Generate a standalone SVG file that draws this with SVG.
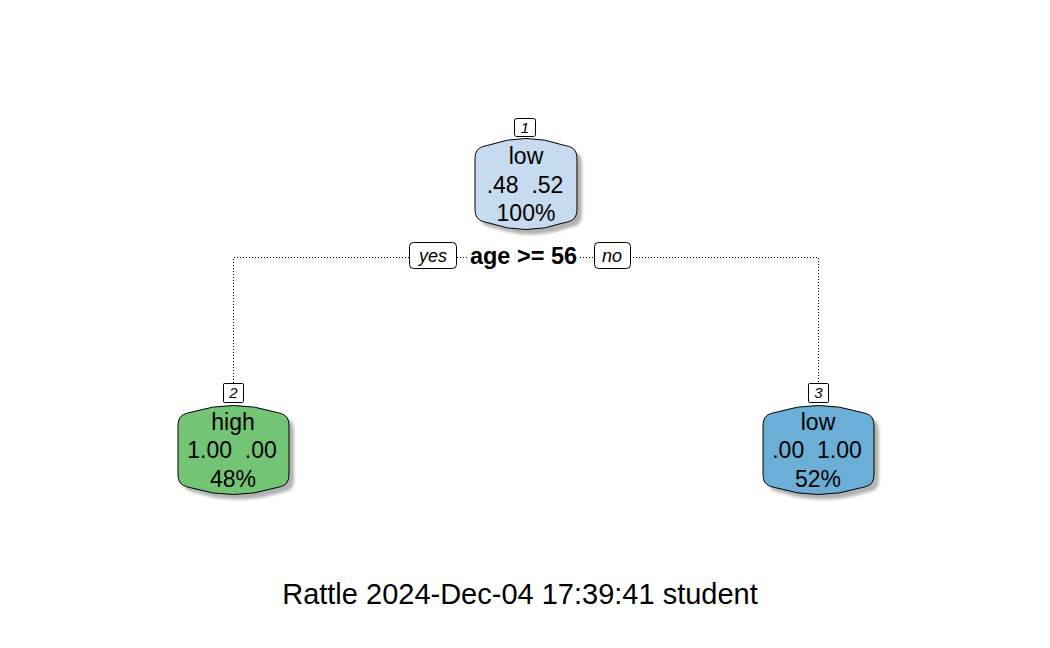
<svg xmlns="http://www.w3.org/2000/svg" width="1050" height="648" viewBox="0 0 1050 648">
<defs>
<filter id="sh" x="-20%" y="-20%" width="140%" height="140%"><feGaussianBlur stdDeviation="1.5"/></filter>
<path id="box1" d="M0,22 C0,11 4,9 14,7 Q51,-6 88,7 C98,9 102,11 102,22 L102,70 C102,81 98,83 88,85 Q51,98 14,85 C4,83 0,81 0,70 Z"/>
<path id="box2" d="M0,22 C0,11 4,9 14,7 Q55.5,-6 97,7 C107,9 111,11 111,22 L111,68 C111,79 107,81 97,83 Q55.5,96 14,83 C4,81 0,79 0,68 Z"/>
</defs>
<style>
.t{font-family:"Liberation Sans",Arial,sans-serif;fill:#000;text-anchor:middle}
.nt{font-size:23px;white-space:pre}
.num{font-size:15px;font-style:italic}
.lab{fill:#fff;stroke:#000;stroke-width:1}
.yn{font-size:18px;font-style:italic}
.edge{stroke:#000;stroke-width:1;stroke-dasharray:1 2;fill:none}
.out{stroke:#000;stroke-width:1}
.shd{fill:#999;opacity:0.75;filter:url(#sh)}
</style>
<rect width="1050" height="648" fill="#fff"/>
<g id="connectors">
<path class="edge" d="M233.5,383 V257.5 H409 M457,257.5 H467 M580,257.5 H594 M630,257.5 H818.5 V383"/>
</g>
<g id="node1">
<use href="#box1" class="shd" transform="translate(480,143)"/>
<use href="#box1" class="out" fill="#c6dbef" transform="translate(475,138)"/>
<rect class="lab" x="514.5" y="118.5" width="21" height="18" rx="2"/>
<text class="t num" x="525" y="133">1</text>
<text class="t nt" x="526" y="164">low</text>
<text class="t nt" x="525" y="193">.48  .52</text>
<text class="t nt" x="526" y="221">100%</text>
</g>
<g id="node2">
<use href="#box2" class="shd" transform="translate(183,410)"/>
<use href="#box2" class="out" fill="#74c476" transform="translate(178,405)"/>
<rect class="lab" x="223.5" y="383.5" width="20" height="19" rx="1"/>
<text class="t num" x="233.5" y="398">2</text>
<text class="t nt" x="233" y="430">high</text>
<text class="t nt" x="232" y="458">1.00  .00</text>
<text class="t nt" x="233" y="487">48%</text>
</g>
<g id="node3">
<use href="#box2" class="shd" transform="translate(768,410)"/>
<use href="#box2" class="out" fill="#6baed6" transform="translate(763,405)"/>
<rect class="lab" x="808.5" y="383.5" width="20" height="19" rx="1"/>
<text class="t num" x="818.5" y="398">3</text>
<text class="t nt" x="818" y="430">low</text>
<text class="t nt" x="817" y="458">.00  1.00</text>
<text class="t nt" x="818" y="487">52%</text>
</g>
<g id="split">
<rect class="lab" x="409.5" y="242.5" width="47" height="26" rx="4"/>
<text class="t yn" x="433" y="262">yes</text>
<text class="t" x="523.5" y="264" font-size="23.5" font-weight="bold">age &gt;= 56</text>
<rect class="lab" x="594.5" y="242.5" width="36" height="26" rx="4"/>
<text class="t yn" x="612" y="262">no</text>
</g>
<text class="t" x="520" y="604" font-size="29">Rattle 2024-Dec-04 17:39:41 student</text>
</svg>
